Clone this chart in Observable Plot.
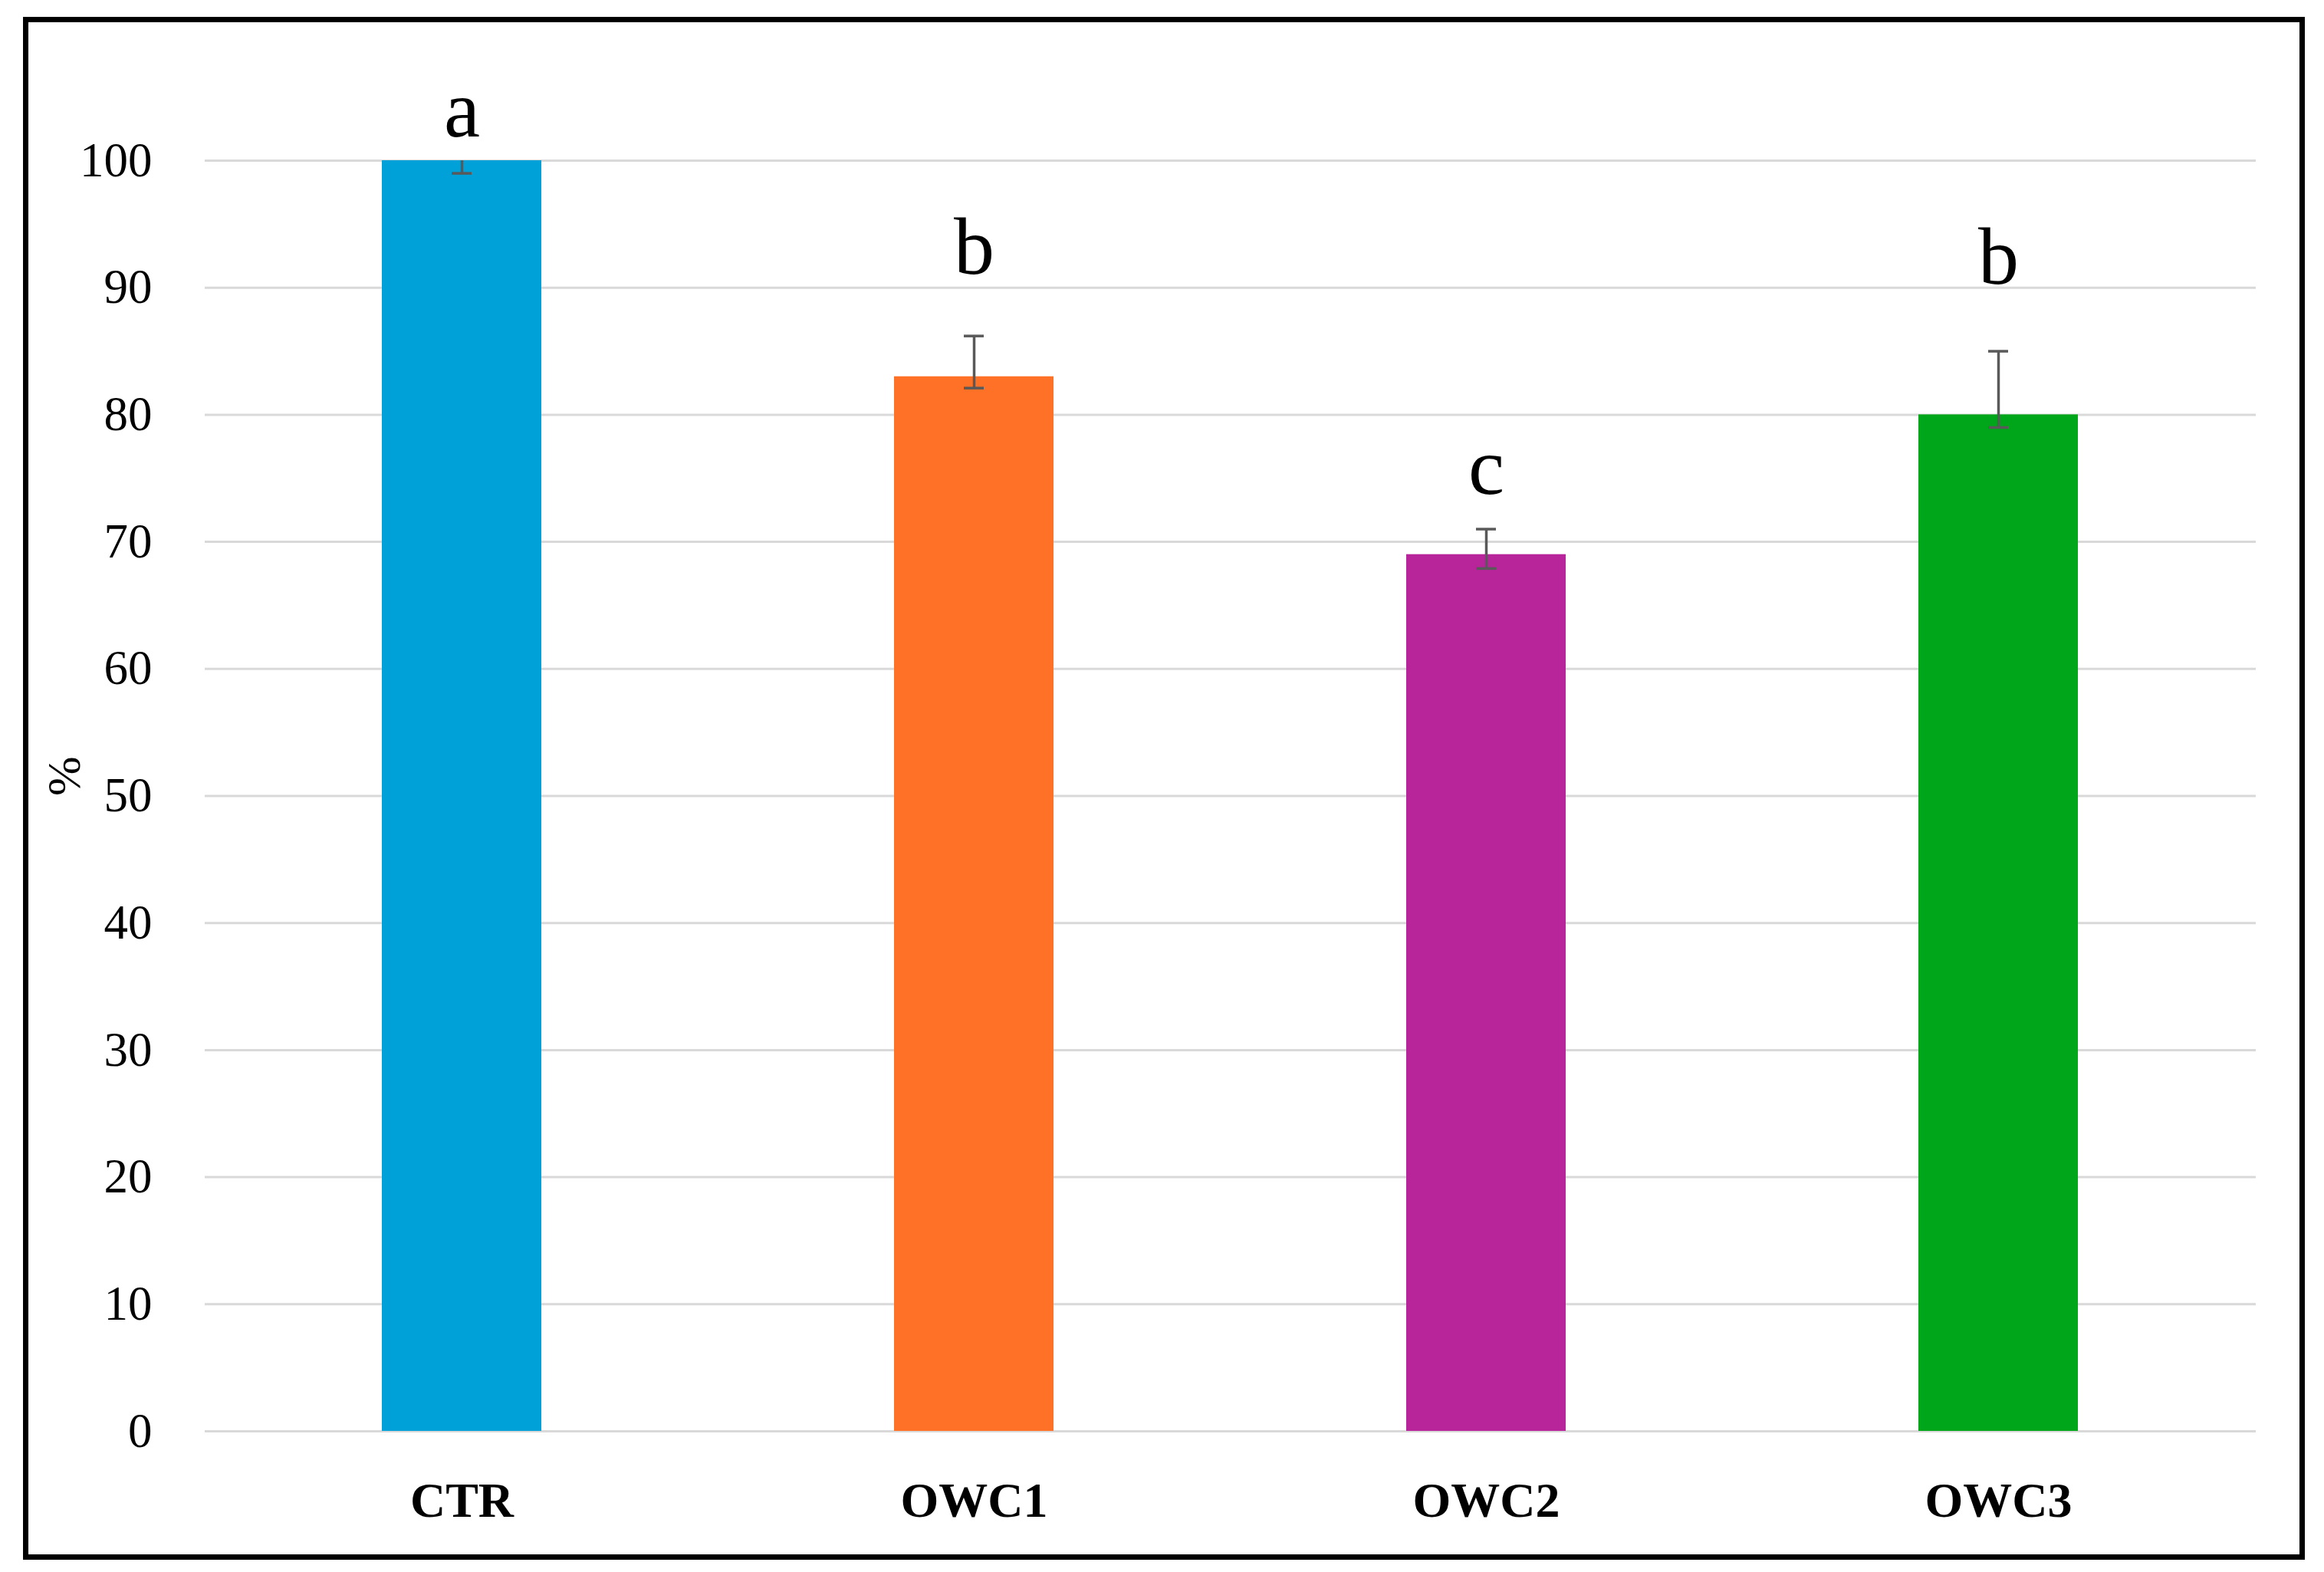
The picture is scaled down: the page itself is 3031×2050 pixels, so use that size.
<!DOCTYPE html>
<html>
<head>
<meta charset="utf-8">
<script src="https://cdn.jsdelivr.net/npm/d3@7"></script>
<script src="https://cdn.jsdelivr.net/npm/@observablehq/plot@0.6"></script>
<style>
  html, body { margin: 0; padding: 0; background: #fff; }
  #wrap { position: relative; width: 3031px; height: 2050px; }
  #frame { position: absolute; left: 30px; top: 22px; width: 2976px; height: 2012px;
           border: 7px solid #000; box-sizing: border-box; pointer-events: none; }
  svg { display: block; }
</style>
</head>
<body>
<div id="wrap"><div id="frame"></div></div>
<script>
// Data
const categories = ["CTR", "OWC1", "OWC2", "OWC3"];
const values     = [100, 83, 69, 80];
const errLow     = [99, 82.1, 67.9, 79];
const errHigh    = [101, 86.2, 71.0, 85];
const letters    = ["a", "b", "c", "b"];
const letterY    = [101.9, 91.1, 73.8, 90.3];
const yTicks     = [0, 10, 20, 30, 40, 50, 60, 70, 80, 90, 100];

const palette = ["#00A0D8", "#FF7127", "#B8259A", "#00A619"];

const data = categories.map((c, i) => ({
  cat: c, value: values[i], low: errLow[i], high: errHigh[i],
  letter: letters[i], ly: letterY[i]
}));

const chart = Plot.plot({
  width: 3031,
  height: 2050,
  marginLeft: 267,
  marginRight: 89,
  marginTop: 209,
  marginBottom: 184,
  style: { fontFamily: "'Liberation Serif', serif", color: "#000", background: "transparent" },
  x: { type: "band", domain: categories, paddingInner: 0.688, paddingOuter: 0.344, label: null },
  y: { domain: [0, 100], label: null },
  color: { domain: categories, range: palette },
  marks: [
    Plot.gridY(yTicks, { stroke: "#D9D9D9", strokeOpacity: 1, strokeWidth: 3 }),
    Plot.barY(data, { x: "cat", y: "value", fill: "cat" }),
    Plot.ruleX(data, { x: "cat", y1: "low", y2: "high", stroke: "#595959", strokeWidth: 3.5, clip: true }),
    Plot.tickY(data, { x: "cat", y: "low", stroke: "#595959", strokeWidth: 3.5, insetLeft: 91, insetRight: 91, clip: true }),
    Plot.tickY(data, { x: "cat", y: "high", stroke: "#595959", strokeWidth: 3.5, insetLeft: 91, insetRight: 91, clip: true }),
    Plot.text(data, { x: "cat", y: "ly", text: "letter", lineAnchor: "bottom", fontSize: 106, fill: "#000" }),
    Plot.axisY({ ticks: yTicks, tickSize: 0, tickPadding: 69, fontSize: 63, label: null }),
    Plot.axisX({ tickSize: 0, tickPadding: 66, fontSize: 64, fontWeight: "bold", label: null }),
    Plot.text(["%"], { frameAnchor: "left", dx: -183, rotate: -90, fontSize: 62, fill: "#000" })
  ]
});

document.getElementById("wrap").insertBefore(chart, document.getElementById("frame"));
</script>
</body>
</html>
